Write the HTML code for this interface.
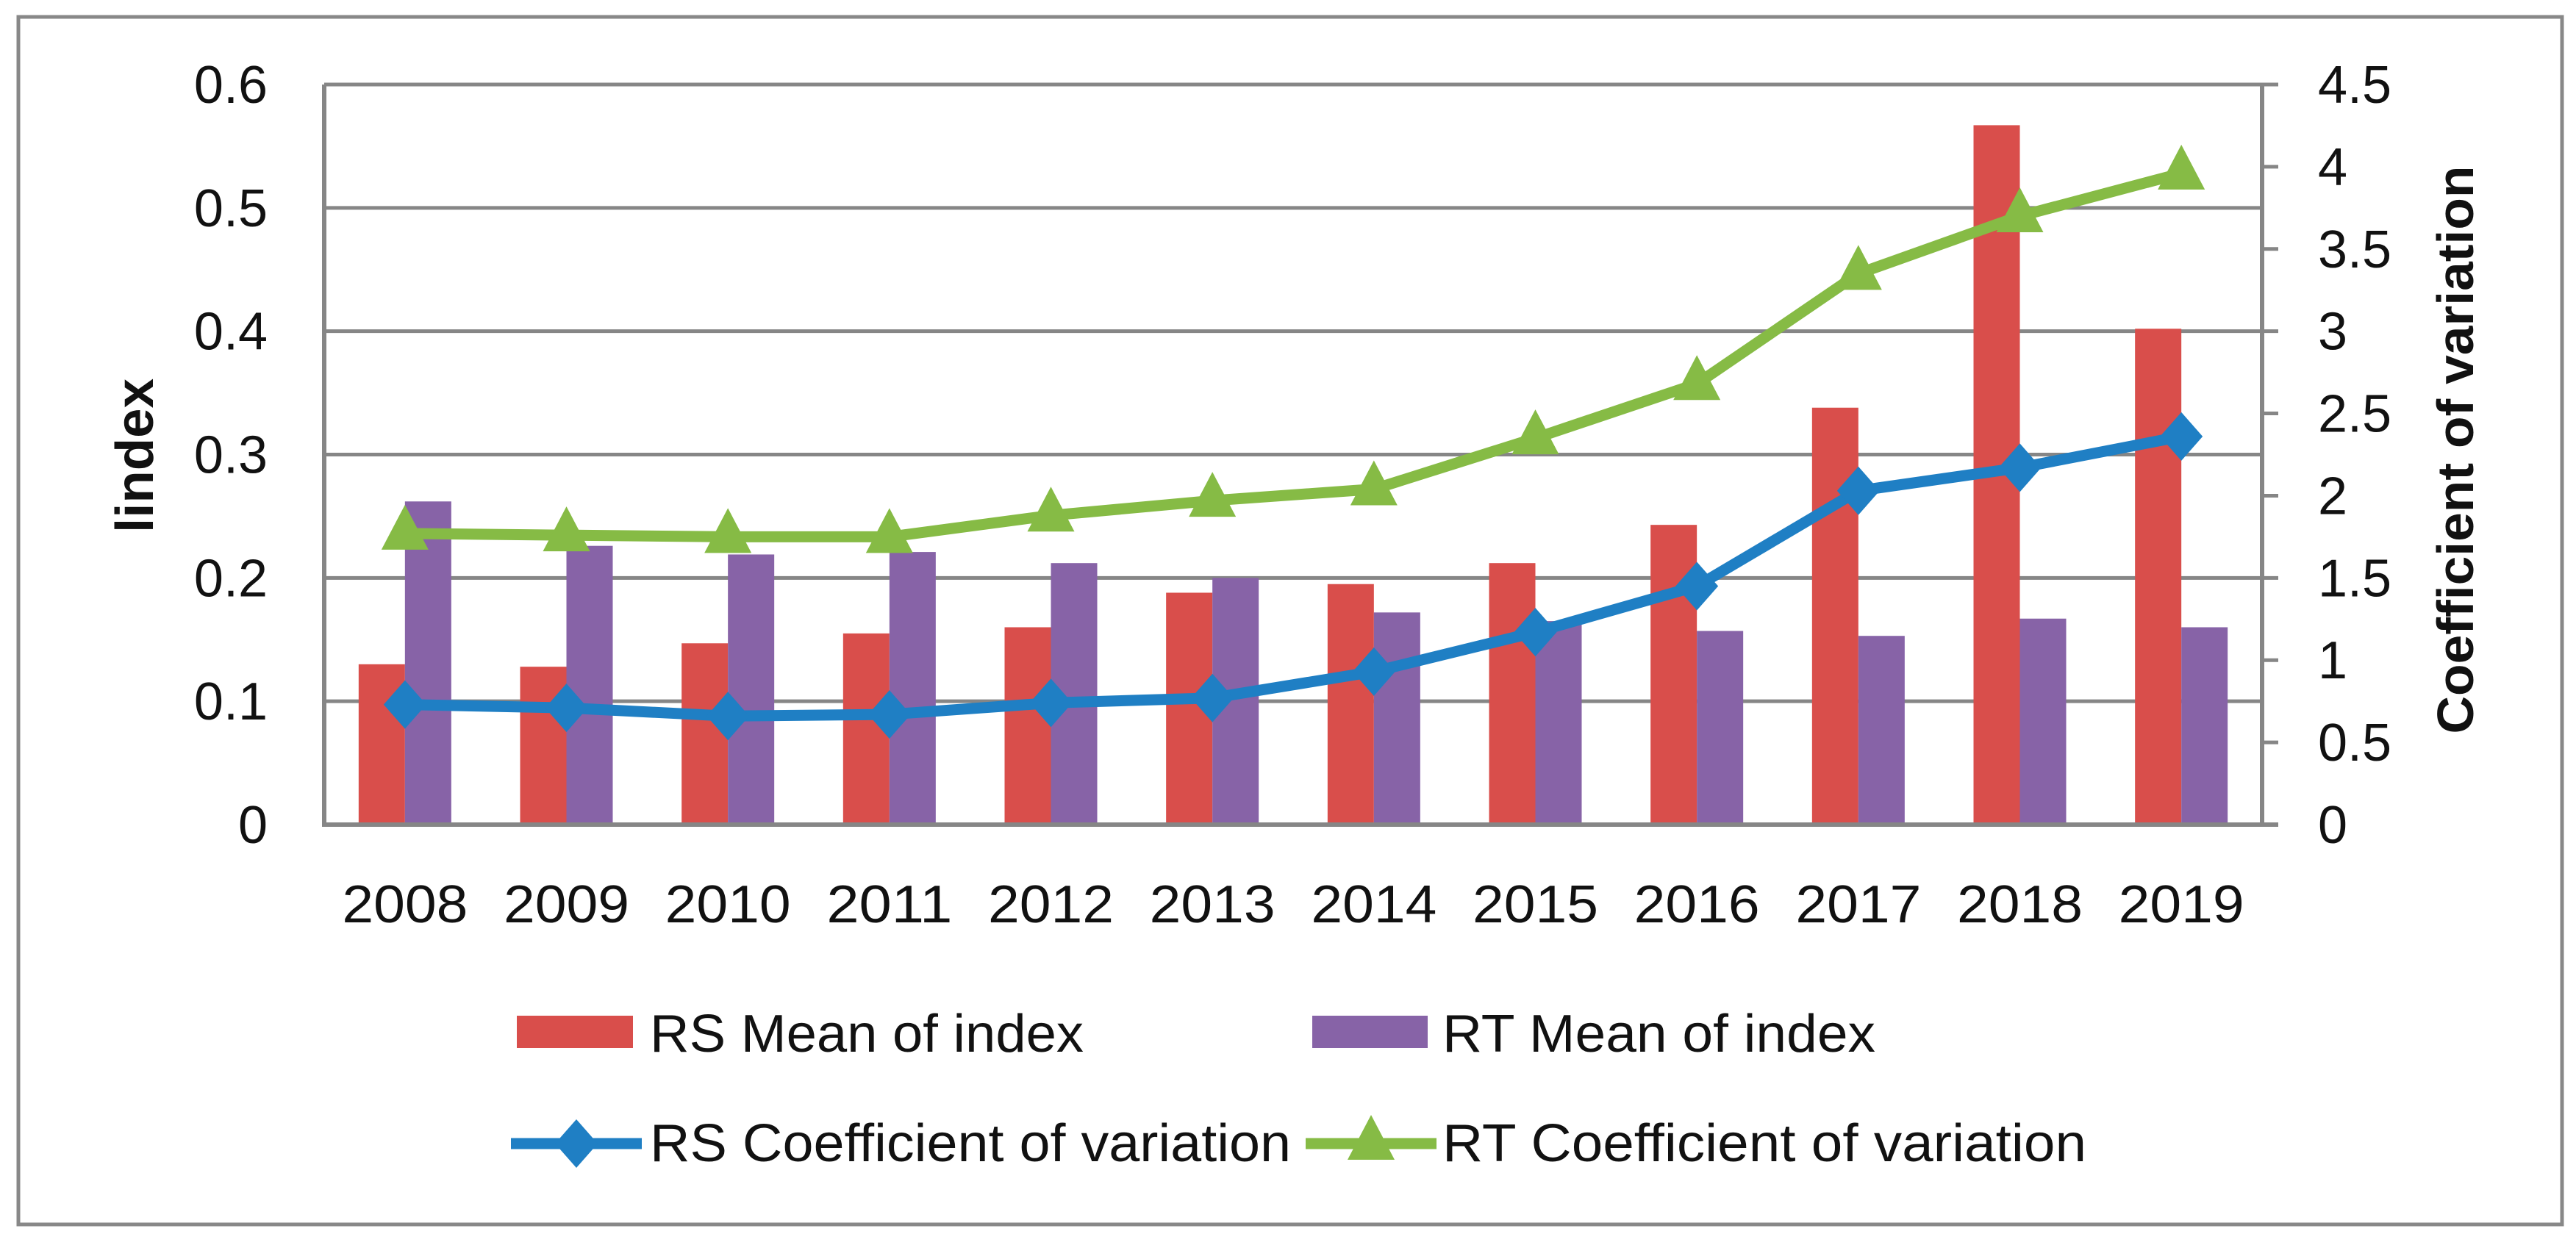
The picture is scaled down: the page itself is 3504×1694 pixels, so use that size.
<!DOCTYPE html>
<html><head><meta charset="utf-8"><style>
html,body{margin:0;padding:0;background:#fff;}
svg{display:block;font-family:"Liberation Sans",sans-serif;}
</style></head><body>
<svg id="chart" width="3504" height="1694" viewBox="0 0 3504 1694">
<rect x="25" y="23" width="3460" height="1643" fill="#fff" stroke="#888" stroke-width="5"/>
<g id="grid"></g><g id="bars"></g><g id="lines"></g><g id="axes"></g><g id="legend"></g>
</svg>
<script>
const years=["2008","2009","2010","2011","2012","2013","2014","2015","2016","2017","2018","2019"];
const rsMean=[0.130,0.128,0.147,0.155,0.160,0.188,0.195,0.212,0.243,0.338,0.567,0.402];
const rtMean=[0.262,0.226,0.219,0.221,0.212,0.200,0.172,0.165,0.157,0.153,0.167,0.160];
const rsCV=[0.73,0.71,0.66,0.67,0.74,0.77,0.93,1.17,1.45,2.03,2.17,2.36];
const rtCV=[1.77,1.76,1.75,1.75,1.88,1.97,2.04,2.35,2.68,3.35,3.70,3.96];
const leftTicks=["0","0.1","0.2","0.3","0.4","0.5","0.6"];
const rightTicks=["0","0.5","1","1.5","2","2.5","3","3.5","4","4.5"];
const NS="http://www.w3.org/2000/svg";
const X0=441,X1=3077,Y0=1122,Y1=115;
const band=(X1-X0)/years.length;
const xc=i=>X0+band*(i+0.5);
const yL=v=>Y0-(v/0.6)*(Y0-Y1);
const yR=v=>Y0-(v/4.5)*(Y0-Y1);
function mk(tag,attrs,parent,text){const e=document.createElementNS(NS,tag);for(const k in attrs)e.setAttribute(k,attrs[k]);if(text!==undefined)e.textContent=text;document.getElementById(parent).appendChild(e);return e;}
leftTicks.forEach(t=>{const v=parseFloat(t);const y=yL(v);
 if(v>0){const g=mk('line',{x1:X0,x2:X1,y1:y,y2:y,stroke:'#868686','stroke-width':5},'grid');
 
 }
 const l=mk('text',{x:364,y:y+25,'text-anchor':'end','font-size':72,fill:'#111'},'axes',t);
 
 
});
rightTicks.forEach(t=>{const y=yR(parseFloat(t));
 const tk=mk('line',{x1:X1,x2:3099,y1:y,y2:y,stroke:'#868686','stroke-width':5},'axes');
 
 
 const l=mk('text',{x:3153,y:y+25,'font-size':72,fill:'#111'},'axes',t);
 
 
});
const bw=63;
years.forEach((yr,i)=>{
 const r=mk('rect',{x:xc(i)-bw,y:yL(rsMean[i]),width:bw,height:Y0-yL(rsMean[i]),fill:'#d94e4b'},'bars');
 
 
 const p=mk('rect',{x:xc(i),y:yL(rtMean[i]),width:bw,height:Y0-yL(rtMean[i]),fill:'#8763a7'},'bars');
 
 
 const lb=mk('text',{x:xc(i),y:1255,'text-anchor':'middle','font-size':72,fill:'#111',textLength:171,lengthAdjust:'spacingAndGlyphs'},'axes',yr);
 
 
});
const la=mk('line',{x1:X0,x2:X0,y1:Y1,y2:Y0,stroke:'#868686','stroke-width':6},'axes');


const ra=mk('line',{x1:X1,x2:X1,y1:Y1,y2:Y0,stroke:'#868686','stroke-width':6},'axes');


const ba=mk('line',{x1:X0-3,x2:X1+22,y1:Y0,y2:Y0,stroke:'#868686','stroke-width':6},'axes');


const tl=mk('line',{x1:X0,x2:X1+22,y1:Y1,y2:Y1,stroke:'#868686','stroke-width':5},'axes');


const yt=mk('text',{x:0,y:0,transform:'translate(208,620) rotate(-90)','text-anchor':'middle','font-size':72,'font-weight':'bold',fill:'#111',textLength:210,lengthAdjust:'spacingAndGlyphs'},'axes','lindex');


const rt=mk('text',{x:0,y:0,transform:'translate(3364,612) rotate(-90)','text-anchor':'middle','font-size':70,'font-weight':'bold',fill:'#111',textLength:773,lengthAdjust:'spacingAndGlyphs'},'axes','Coefficient of variation');


function series(vals,color,name,marker){
 const pts=vals.map((v,i)=>xc(i)+','+yR(v)).join(' ');
 const pl=mk('polyline',{points:pts,fill:'none',stroke:color,'stroke-width':15,'stroke-linejoin':'round'},'lines');
 
 
 vals.forEach((v,i)=>{const x=xc(i),y=yR(v);let m;
  if(marker==='d')m=mk('polygon',{points:`${x-29},${y} ${x},${y-33} ${x+29},${y} ${x},${y+33}`,fill:color},'lines');
  else m=mk('polygon',{points:`${x-32},${y+22} ${x},${y-39} ${x+32},${y+22}`,fill:color},'lines');
  
  
 });
}
series(rtCV,'#86bb45','rt-cv','t');
series(rsCV,'#1f7fc4','rs-cv','d');
const l1=mk('rect',{x:703,y:1382,width:158,height:44,fill:'#d94e4b'},'legend');


const t1=mk('text',{x:884,y:1431,'font-size':72,fill:'#111',textLength:590,lengthAdjust:'spacingAndGlyphs'},'legend','RS Mean of index');


const l2=mk('rect',{x:1785,y:1382,width:157,height:44,fill:'#8763a7'},'legend');


const t2=mk('text',{x:1962,y:1431,'font-size':72,fill:'#111',textLength:589,lengthAdjust:'spacingAndGlyphs'},'legend','RT Mean of index');


const l3=mk('line',{x1:695,x2:873,y1:1556,y2:1556,stroke:'#1f7fc4','stroke-width':15},'legend');


const d3=mk('polygon',{points:'755,1556 784,1523 813,1556 784,1589',fill:'#1f7fc4'},'legend');


const t3=mk('text',{x:884,y:1580,'font-size':72,fill:'#111',textLength:872,lengthAdjust:'spacingAndGlyphs'},'legend','RS Coefficient of variation');


const l4=mk('line',{x1:1776,x2:1954,y1:1556,y2:1556,stroke:'#86bb45','stroke-width':15},'legend');


const d4=mk('polygon',{points:'1833,1578 1865,1517 1897,1578',fill:'#86bb45'},'legend');


const t4=mk('text',{x:1962,y:1580,'font-size':72,fill:'#111',textLength:876,lengthAdjust:'spacingAndGlyphs'},'legend','RT Coefficient of variation');


</script>
</body></html>
